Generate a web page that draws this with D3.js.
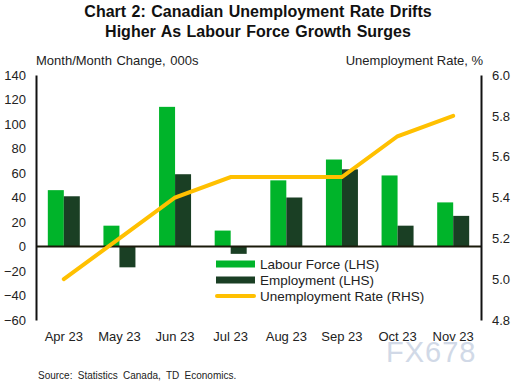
<!DOCTYPE html>
<html>
<head>
<meta charset="utf-8">
<script src="https://cdn.jsdelivr.net/npm/d3@7"></script>
<style>
  body { margin: 0; background: #fff; }
  svg { font-family: "Liberation Sans", Arial, sans-serif; }
  .axis-label { font-size: 13px; fill: #222; }
</style>
</head>
<body>
<div id="chart"></div>
<script>
var months = ["Apr 23", "May 23", "Jun 23", "Jul 23", "Aug 23", "Sep 23", "Oct 23", "Nov 23"];
var labourForce = [46, 17, 114, 13, 54, 71, 58, 36];
var employment = [41, -17, 59, -6, 40, 63, 17, 25];
var unemploymentRate = [5.0, 5.2, 5.4, 5.5, 5.5, 5.5, 5.7, 5.8];
var leftTicks = [-60, -40, -20, 0, 20, 40, 60, 80, 100, 120, 140];
var rightTicks = [4.8, 5.0, 5.2, 5.4, 5.6, 5.8, 6.0];

var svgWidth = 516;
var svgHeight = 386;

var margin = { top: 75, right: 35, bottom: 66, left: 36 };
var width = svgWidth - margin.left - margin.right;
var height = svgHeight - margin.top - margin.bottom;

var svg = d3.select("#chart")
    .append("svg")
    .attr("width", svgWidth)
    .attr("height", svgHeight);

var chartGroup = svg.append("g")
    .attr("transform", `translate(${margin.left}, ${margin.top})`);

var xScale = d3.scaleBand()
    .domain(months)
    .range([0, width]);

var yLeft = d3.scaleLinear()
    .domain([-60, 140])
    .range([height, 0]);

var yRight = d3.scaleLinear()
    .domain([4.8, 6.0])
    .range([height, 0]);

var barWidth = 16;

// bars
chartGroup.selectAll(".lf")
    .data(labourForce)
    .enter()
    .append("rect")
    .attr("x", (d, i) => xScale(months[i]) + xScale.bandwidth() / 2 - barWidth)
    .attr("y", d => yLeft(Math.max(0, d)))
    .attr("width", barWidth)
    .attr("height", d => Math.abs(yLeft(d) - yLeft(0)))
    .attr("fill", "#00B42A");

chartGroup.selectAll(".emp")
    .data(employment)
    .enter()
    .append("rect")
    .attr("x", (d, i) => xScale(months[i]) + xScale.bandwidth() / 2)
    .attr("y", d => yLeft(Math.max(0, d)))
    .attr("width", barWidth)
    .attr("height", d => Math.abs(yLeft(d) - yLeft(0)))
    .attr("fill", "#1A3F24");

// zero line
chartGroup.append("line")
    .attr("x1", 0)
    .attr("x2", width)
    .attr("y1", yLeft(0))
    .attr("y2", yLeft(0))
    .attr("stroke", "#1a1a0a")
    .attr("stroke-width", 2);

// unemployment rate line
var line = d3.line()
    .x((d, i) => xScale(months[i]) + xScale.bandwidth() / 2)
    .y(d => yRight(d));

chartGroup.append("path")
    .datum(unemploymentRate)
    .attr("d", line)
    .attr("fill", "none")
    .attr("stroke", "#FFC000")
    .attr("stroke-width", 4)
    .attr("stroke-linecap", "round");

// axes
var leftAxis = d3.axisLeft(yLeft).tickValues(leftTicks).tickSize(0).tickPadding(10);
var rightAxis = d3.axisRight(yRight).tickValues(rightTicks).tickSize(0).tickPadding(11)
    .tickFormat(d3.format(".1f"));
var bottomAxis = d3.axisBottom(xScale).tickSize(0).tickPadding(12);

var gl = chartGroup.append("g").call(leftAxis);
var gr = chartGroup.append("g").attr("transform", `translate(${width}, 0)`).call(rightAxis);
var gb = chartGroup.append("g").attr("transform", `translate(0, ${height})`).call(bottomAxis);

[gl, gr].forEach(function (g) {
    g.select(".domain").attr("stroke", "#111").attr("stroke-width", 2);
});
gb.select(".domain").remove();
[gl, gr, gb].forEach(function (g) {
    g.selectAll("text")
        .attr("font-size", 13)
        .attr("fill", "#222")
        .attr("font-family", "Liberation Sans, Arial, sans-serif");
});

// legend
var legendItems = [
    { name: "Labour Force (LHS)", color: "#00B42A", type: "bar" },
    { name: "Employment (LHS)", color: "#1A3F24", type: "bar" },
    { name: "Unemployment Rate (RHS)", color: "#FFC000", type: "line" }
];

var legend = svg.append("g")
    .attr("transform", "translate(216, 264)");

legendItems.forEach(function (item, i) {
    var row = legend.append("g").attr("transform", `translate(0, ${i * 16})`);
    if (item.type === "bar") {
        row.append("rect")
            .attr("x", 0).attr("y", -3.5)
            .attr("width", 39).attr("height", 7)
            .attr("fill", item.color);
    } else {
        row.append("line")
            .attr("x1", 1).attr("x2", 38)
            .attr("y1", 0).attr("y2", 0)
            .attr("stroke", item.color)
            .attr("stroke-width", 4)
            .attr("stroke-linecap", "round");
    }
    row.append("text")
        .attr("x", 44)
        .attr("y", 5)
        .attr("font-size", 13.5)
        .attr("fill", "#222")
        .text(item.name);
});

// titles
svg.append("text")
    .attr("x", 258).attr("y", 17)
    .attr("text-anchor", "middle")
    .attr("font-size", 16)
    .attr("font-weight", "bold")
    .attr("fill", "#111")
    .attr("word-spacing", 1)
    .text("Chart 2: Canadian Unemployment  Rate Drifts");

svg.append("text")
    .attr("x", 258).attr("y", 37)
    .attr("text-anchor", "middle")
    .attr("font-size", 16)
    .attr("font-weight", "bold")
    .attr("fill", "#111")
    .attr("word-spacing", 1)
    .text("Higher As Labour Force Growth Surges");

svg.append("text")
    .attr("class", "axis-label")
    .attr("x", 36).attr("y", 65)
    .attr("word-spacing", 1)
    .text("Month/Month  Change, 000s");

svg.append("text")
    .attr("class", "axis-label")
    .attr("x", 483).attr("y", 65)
    .attr("text-anchor", "end")
    .text("Unemployment Rate, %");

// watermark
svg.append("text")
    .attr("x", 386).attr("y", 362)
    .attr("font-size", 29)
    .attr("fill", "#c9d3e3")
    .attr("opacity", 0.85)
    .attr("letter-spacing", 1)
    .text("FX678");

svg.append("text")
    .attr("x", 38).attr("y", 379)
    .attr("font-size", 10)
    .attr("fill", "#222")
    .attr("word-spacing", 2.5)
    .text("Source: Statistics Canada, TD Economics.");
</script>
</body>
</html>
